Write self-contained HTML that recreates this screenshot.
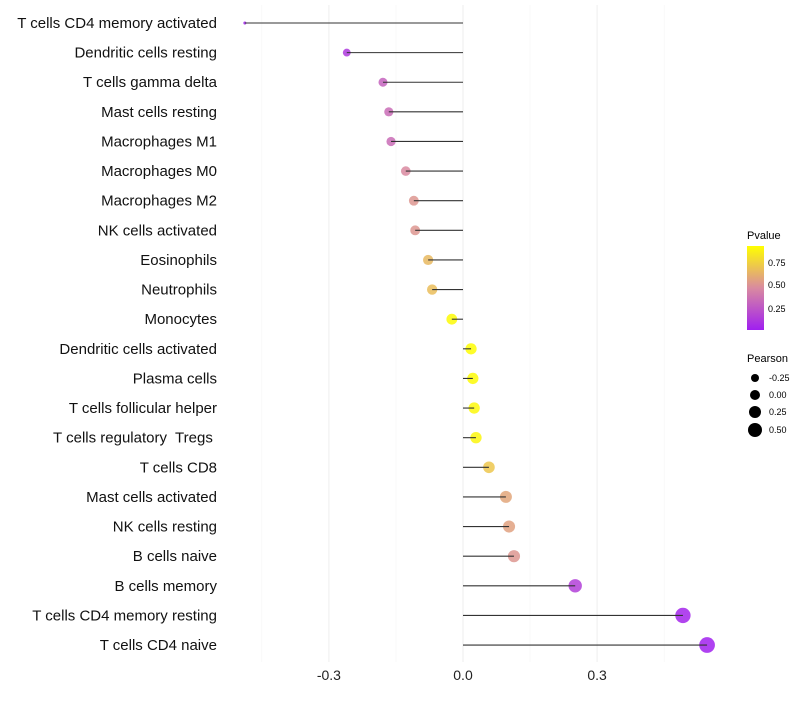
<!DOCTYPE html>
<html><head><meta charset="utf-8"><style>
body{margin:0;background:#fff;font-family:"Liberation Sans",sans-serif;}
svg text{font-family:"Liberation Sans",sans-serif;white-space:pre;}
</style></head><body>
<svg width="800" height="700">
<g id="grid"></g>
<g id="marks"></g>
<g id="ylabels"></g>
<g id="xlabels"></g>
<g id="legend">
<defs><linearGradient id="pg" x1="0" y1="1" x2="0" y2="0">
<stop offset="0" stop-color="#a01ff0"/><stop offset="0.5" stop-color="#d98aa0"/><stop offset="1" stop-color="#ffff00"/></linearGradient></defs>
<text x="747" y="239" font-size="11">Pvalue</text>
<rect x="747" y="246" width="17" height="84" fill="url(#pg)"/>
<text x="768" y="266" font-size="9">0.75</text>
<text x="768" y="288" font-size="9">0.50</text>
<text x="768" y="312" font-size="9">0.25</text>
<text x="747" y="362" font-size="11">Pearson</text>
<circle cx="755" cy="378" r="4" fill="#000"/>
<circle cx="755" cy="395" r="5" fill="#000"/>
<circle cx="755" cy="412" r="6" fill="#000"/>
<circle cx="755" cy="430" r="7" fill="#000"/>
<text x="769" y="381" font-size="9">-0.25</text>
<text x="769" y="398" font-size="9">0.00</text>
<text x="769" y="415" font-size="9">0.25</text>
<text x="769" y="433" font-size="9">0.50</text>
</g>
</svg>
<script>
const categories=["T cells CD4 memory activated","Dendritic cells resting","T cells gamma delta","Mast cells resting","Macrophages M1","Macrophages M0","Macrophages M2","NK cells activated","Eosinophils","Neutrophils","Monocytes","Dendritic cells activated","Plasma cells","T cells follicular helper","T cells regulatory  Tregs ","T cells CD8","Mast cells activated","NK cells resting","B cells naive","B cells memory","T cells CD4 memory resting","T cells CD4 naive"];
const pearson=[-0.488,-0.26,-0.179,-0.166,-0.161,-0.128,-0.110,-0.107,-0.078,-0.069,-0.025,0.018,0.022,0.025,0.029,0.058,0.096,0.103,0.114,0.251,0.492,0.546];
const pvalues=[0.02,0.12,0.32,0.36,0.36,0.5,0.55,0.55,0.7,0.72,0.98,0.99,0.98,0.97,0.96,0.76,0.62,0.6,0.55,0.15,0.03,0.01];
const xTicks=[-0.3,0,0.3];
const xTickLabels=["-0.3","0.0","0.3"];
const NS="http://www.w3.org/2000/svg";
const x=v=>463+v*447;
const y=i=>23+i*29.62;
function mk(t,a,p){const e=document.createElementNS(NS,t);for(const k in a)e.setAttribute(k,a[k]);p.appendChild(e);return e;}
function lerp(a,b,t){return a.map((v,i)=>Math.round(v+(b[i]-v)*t));}
function col(p){const c0=[160,31,240],c1=[217,138,160],c2=[255,255,0];const c=p<0.5?lerp(c0,c1,p/0.5):lerp(c1,c2,(p-0.5)/0.5);return `rgb(${c.join(',')})`;}
const rad=v=>Math.sqrt(2.25+(v+0.49)/1.04*60);
const grid=document.getElementById('grid'),marks=document.getElementById('marks'),yl=document.getElementById('ylabels'),xl=document.getElementById('xlabels');
[-0.45,-0.15,0.15,0.45].forEach(v=>{const l=mk('line',{x1:x(v),x2:x(v),y1:5,y2:662,stroke:'#f5f5f5','stroke-width':0.6},grid);

});
xTicks.forEach((v,i)=>{const l=mk('line',{x1:x(v),x2:x(v),y1:5,y2:662,stroke:'#eeeeee','stroke-width':1},grid);


const t=mk('text',{x:x(v),y:680,'font-size':14,'text-anchor':'middle',fill:'#222'},xl);t.textContent=xTickLabels[i];

});
categories.forEach((c,i)=>{
const t=mk('text',{x:217,y:y(i)+5,'font-size':15,'text-anchor':'end',fill:'#111'},yl);t.textContent=c;


const ci=mk('circle',{cx:x(pearson[i]),cy:y(i),r:rad(pearson[i]),fill:col(pvalues[i]),'fill-opacity':0.85},marks);


const l=mk('line',{x1:x(0),x2:x(pearson[i]),y1:y(i),y2:y(i),stroke:'#333','stroke-width':1.1},marks);


});
</script>
</body></html>
